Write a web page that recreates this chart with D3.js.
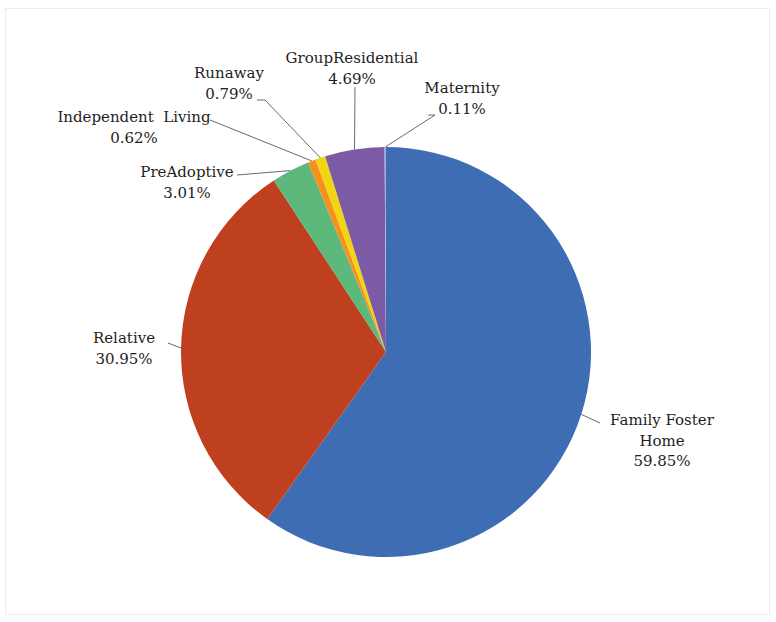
<!DOCTYPE html>
<html>
<head>
<meta charset="utf-8">
<script src="https://cdn.jsdelivr.net/npm/d3@7"></script>
<style>
  html, body { margin: 0; padding: 0; background: #fff; }
  svg { display: block; }
</style>
</head>
<body>
<svg id="chart" width="776" height="622"></svg>
<script>
// Placement types, in drawing order (clockwise from 12 o'clock)
const categories = ["Family Foster Home", "Relative", "PreAdoptive", "Independent Living", "Runaway", "GroupResidential", "Maternity"];
const shares = [59.85, 30.95, 3.01, 0.62, 0.79, 4.69, 0.11];
const labelLines = [["Family Foster", "Home"], ["Relative"], ["PreAdoptive"], ["Independent  Living"], ["Runaway"], ["GroupResidential"], ["Maternity"]];
const sliceColors = ["#3e6db4", "#bf401e", "#5cb87b", "#f6901f", "#f1d412", "#7c5ba4", "#a3aede"];

// Label layout: text centre x, first baseline y, and the leader-line path start
const labelLayout = [
  { x: 662, y: 425, lead: [[600, 423]] },
  { x: 124, y: 343, lead: [[168, 343]] },
  { x: 187, y: 177, lead: [[237, 175]] },
  { x: 134, y: 122, lead: [[210, 120]] },
  { x: 229, y: 78,  lead: [[257, 100], [265, 100]] },
  { x: 352, y: 63,  lead: [[355, 87]] },
  { x: 462, y: 93,  lead: [[428, 115], [435, 115]] }
];

const FONT = "DejaVu Serif";

const svg = d3.select("#chart");
const cx = 386, cy = 352, r = 205;

// faint chart frame
svg.append("rect")
  .attr("x", 5.5).attr("y", 8.5).attr("width", 764).attr("height", 606)
  .attr("fill", "none").attr("stroke", "#ececec").attr("stroke-width", 1);

const data = categories.map((c, i) => ({ name: c, value: shares[i], i }));
const pie = d3.pie().value(d => d.value).sort(null);
const arcs = pie(data);
const arc = d3.arc().innerRadius(0).outerRadius(r);
const edge = d3.arc().innerRadius(r).outerRadius(r);

const g = svg.append("g").attr("transform", `translate(${cx},${cy})`);
g.selectAll("path.slice")
  .data(arcs)
  .join("path")
  .attr("class", "slice")
  .attr("d", arc)
  .attr("fill", d => sliceColors[d.data.i]);

// leader lines from label to the slice's outer edge midpoint
arcs.forEach(a => {
  const lay = labelLayout[a.data.i];
  const [ex, ey] = edge.centroid(a);
  const pts = lay.lead.concat([[cx + ex, cy + ey]]);
  svg.append("path")
    .attr("d", d3.line()(pts))
    .attr("fill", "none")
    .attr("stroke", "#6a6a6a")
    .attr("stroke-width", 1);
});

// category labels with their percentage
arcs.forEach(a => {
  const i = a.data.i;
  const lay = labelLayout[i];
  const lines = labelLines[i].concat([d3.format(".2f")(shares[i]) + "%"]);
  const t = svg.append("text")
    .attr("text-anchor", "middle")
    .attr("font-family", FONT)
    .attr("font-size", 15)
    .attr("fill", "#1e1e1e")
    .style("white-space", "pre");
  lines.forEach((ln, k) => {
    t.append("tspan").attr("x", lay.x).attr("y", lay.y + k * 20.5).text(ln);
  });
});
</script>
</body>
</html>
